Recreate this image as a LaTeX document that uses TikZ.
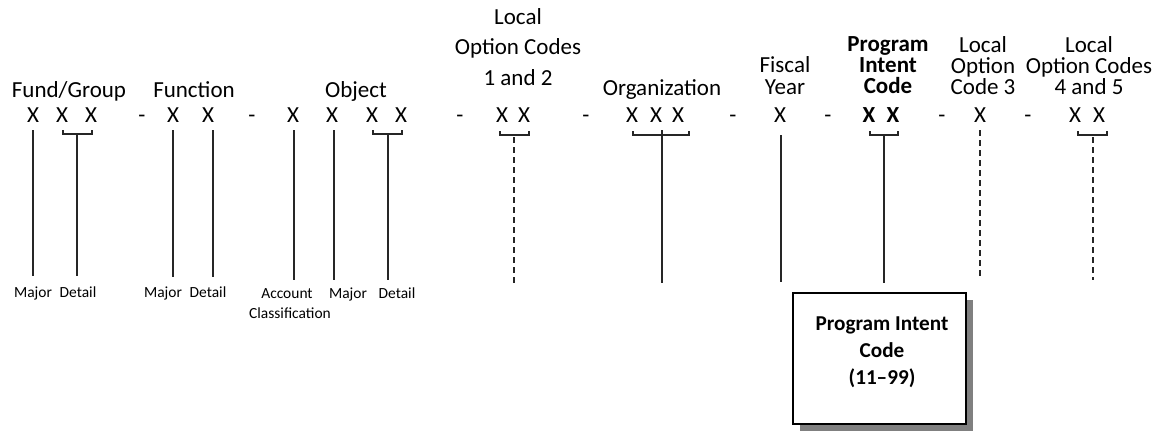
\documentclass[tikz,border=0pt]{standalone}
\usepackage{fontspec}
\setmainfont{Carlito}
\usetikzlibrary{shadows}
\begin{document}
\begin{tikzpicture}[x=0.75pt,y=-0.75pt,
  ttl/.style={font=\fontsize{17.25}{20}\selectfont, anchor=base, inner sep=0pt},
  bttl/.style={ttl, font=\fontsize{17.25}{20}\selectfont\bfseries},
  lbl/.style={font=\fontsize{11.6}{14}\selectfont, anchor=base, inner sep=0pt},
  btxt/.style={font=\fontsize{15.9}{20}\selectfont\bfseries, anchor=base, inner sep=0pt},
  ln/.style={draw=black!85, line width=0.8pt},
  dln/.style={ln, dash pattern=on 4.5pt off 3pt},
  brk/.style={draw=black!85, line width=0.8pt}]
\useasboundingbox (0,0) rectangle (1167,433);

% titles
\node[ttl] (fundT) at (69,97) {Fund/Group};
\node[ttl] (funcT) at (194,97) {Function};
\node[ttl] (objT) at (356,97) {Object};
\node[ttl] (locAa) at (518,24) {Local};
\node[ttl] (locAb) at (518,54) {Option Codes};
\node[ttl] (locAc) at (518,85) {1 and 2};
\node[ttl] (orgT) at (662,95) {Organization};
\node[ttl] (fisA) at (785,72) {Fiscal};
\node[ttl] (fisB) at (785,94) {Year};
\node[bttl] (picA) at (888,51) {Program};
\node[bttl] (picB) at (888,72) {Intent};
\node[bttl] (picC) at (888,93) {Code};
\node[ttl] (locBa) at (983,52) {Local};
\node[ttl] (locBb) at (983,73) {Option};
\node[ttl] (locBc) at (983,94) {Code 3};
\node[ttl] (locCa) at (1089,52) {Local};
\node[ttl] (locCb) at (1089,73) {Option Codes};
\node[ttl] (locCc) at (1089,94) {4 and 5};

% X row
\node[ttl] (x1) at (33,122) {X};
\node[ttl] (x2) at (62,122) {X};
\node[ttl] (x3) at (91,122) {X};
\node[ttl] (h1) at (142,122) {-};
\node[ttl] (x4) at (173,122) {X};
\node[ttl] (x5) at (208,122) {X};
\node[ttl] (h2) at (252,122) {-};
\node[ttl] (x6) at (293,122) {X};
\node[ttl] (x7) at (332,122) {X};
\node[ttl] (x8) at (372,122) {X};
\node[ttl] (x9) at (401,122) {X};
\node[ttl] (h3) at (460,122) {-};
\node[ttl] (x10) at (502,122) {X};
\node[ttl] (x11) at (524,122) {X};
\node[ttl] (h4) at (586,122) {-};
\node[ttl] (x12) at (632,122) {X};
\node[ttl] (x13) at (656,122) {X};
\node[ttl] (x14) at (678,122) {X};
\node[ttl] (h5) at (733,122) {-};
\node[ttl] (x15) at (780,122) {X};
\node[ttl] (h6) at (828,122) {-};
\node[bttl] (x16) at (869,122) {X};
\node[bttl] (x17) at (893,122) {X};
\node[ttl] (h7) at (942,122) {-};
\node[ttl] (x18) at (980,122) {X};
\node[ttl] (h8) at (1028,122) {-};
\node[ttl] (x19) at (1075,122) {X};
\node[ttl] (x20) at (1099,122) {X};

% brackets
\draw[brk] (63,130) -- (63,134) -- (92,134) -- (92,130);
\draw[brk] (373,130) -- (373,134) -- (402,134) -- (402,130);
\draw[brk] (500,131) -- (500,135) -- (529,135) -- (529,131);
\draw[brk] (633,131) -- (633,135) -- (689,135) -- (689,131);
\draw[brk] (870,131) -- (870,135) -- (898,135) -- (898,131);
\draw[brk] (1078,131) -- (1078,135) -- (1107,135) -- (1107,131);

% bottom labels
\node[lbl] (lb1) at (33,297) {Major};
\node[lbl] (lb2) at (78,297) {Detail};
\node[lbl] (lb3) at (163,297) {Major};
\node[lbl] (lb4) at (208,297) {Detail};
\node[lbl] (lb5) at (287,298) {Account};
\node[lbl] (lb5b) at (290,318) {Classification};
\node[lbl] (lb6) at (348,298) {Major};
\node[lbl] (lb7) at (397,298) {Detail};

% line end points
\coordinate (t1) at (33,130);  \coordinate (b1) at (33,276);
\coordinate (t2) at (77,134);  \coordinate (b2) at (77,276);
\coordinate (t3) at (173,130); \coordinate (b3) at (173,277);
\coordinate (t4) at (213,130); \coordinate (b4) at (213,277);
\coordinate (t5) at (294,130); \coordinate (b5) at (294,280);
\coordinate (t6) at (334,130); \coordinate (b6) at (334,280);
\coordinate (t7) at (388,134); \coordinate (b7) at (388,280);
\coordinate (t8) at (514,137); \coordinate (b8) at (514,285);
\coordinate (t9) at (662,130); \coordinate (b9) at (662,283);
\coordinate (t10) at (781,135); \coordinate (b10) at (781,282);
\coordinate (t11) at (884,135); \coordinate (b11) at (884,283);
\coordinate (t12) at (980,130); \coordinate (b12) at (980,280);
\coordinate (t13) at (1093,137); \coordinate (b13) at (1093,280);

\draw[ln] (t1) -- (b1);
\draw[ln] (t2) -- (b2);
\draw[ln] (t3) -- (b3);
\draw[ln] (t4) -- (b4);
\draw[ln] (t5) -- (b5);
\draw[ln] (t6) -- (b6);
\draw[ln] (t7) -- (b7);
\draw[dln] (t8) -- (b8);
\draw[ln] (t9) -- (b9);
\draw[ln] (t10) -- (b10);
\draw[ln] (t11) -- (b11);
\draw[dln] (t12) -- (b12);
\draw[dln] (t13) -- (b13);

% box
\node[draw=black, line width=0.8pt, fill=white, minimum width=129.75pt, minimum height=98.25pt, inner sep=0pt,
  drop shadow={shadow xshift=5.6pt, shadow yshift=-5.6pt, fill=black!50, opacity=1}] (box) at (879.5,358.5) {};
\node[btxt] (boxA) at (882,330) {Program Intent};
\node[btxt] (boxB) at (882,357) {Code};
\node[btxt] (boxC) at (882,384) {(11–99)};
\end{tikzpicture}
\end{document}
